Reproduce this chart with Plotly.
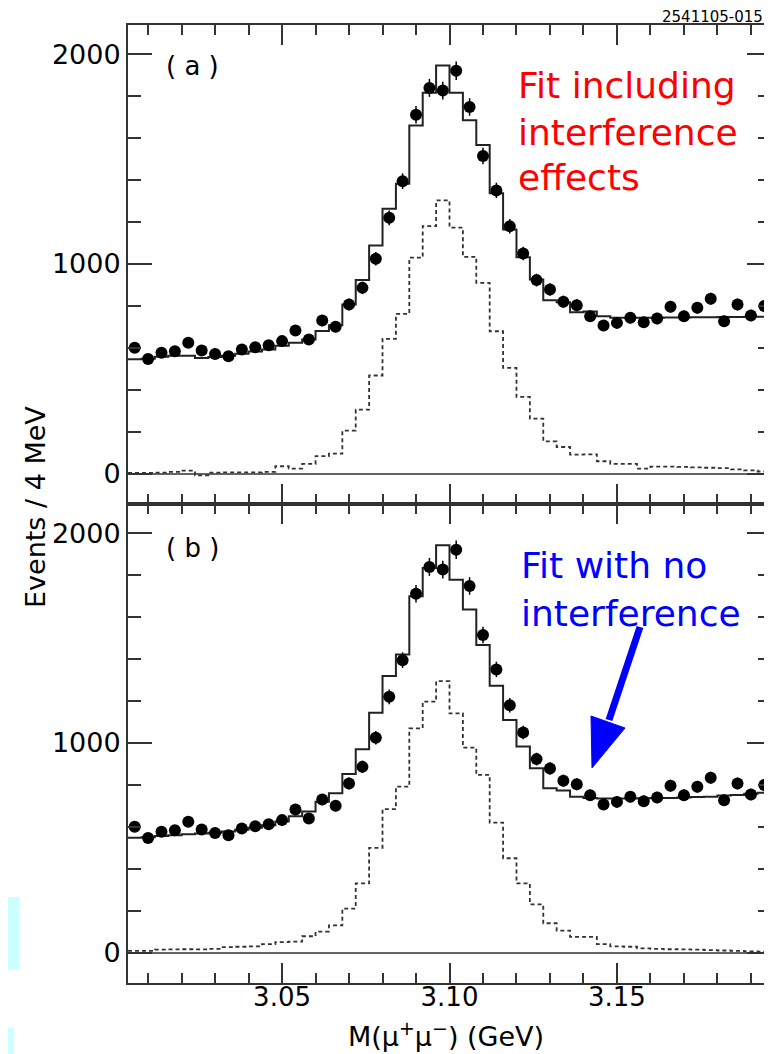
import plotly.graph_objects as go

# ---------------- data ----------------
bin_start = 3.004      # GeV, first bin lower edge
bin_width = 0.004      # GeV (4 MeV bins)
n_bins = 48

data_counts = [600, 547, 576, 584, 624, 587, 571, 560, 592, 603, 612, 632,
               683, 640, 730, 700, 807, 886, 1025, 1220, 1395, 1712, 1840, 1827,
               1922, 1749, 1515, 1351, 1180, 1050, 923, 878, 820, 803, 751, 706,
               719, 743, 722, 740, 796, 751, 791, 834, 727, 807, 754, 799]

fit_a = [545, 548, 558, 562, 562, 552, 556, 562, 572, 582, 592, 610,
         624, 640, 680, 708, 807, 923, 1088, 1263, 1383, 1661, 1817, 1947,
         1817, 1686, 1567, 1337, 1165, 1032, 926, 827, 818, 770, 773, 751,
         743, 743, 744, 744, 745, 745, 746, 746, 747, 747, 748, 748]

sig_a = [3, 3, 5, 8, 14, -8, 5, 6, 6, 6, 8, 35,
         24, 46, 83, 95, 205, 305, 468, 643, 762, 1030, 1181, 1303,
         1173, 1034, 910, 679, 504, 366, 262, 154, 127, 91, 92, 59,
         46, 46, 24, 33, 33, 32, 30, 28, 26, 20, 15, 10]

fit_b = [548, 550, 556, 560, 564, 568, 572, 578, 586, 596, 608, 625,
         650, 673, 720, 760, 852, 970, 1144, 1319, 1422, 1700, 1835, 1943,
         1779, 1637, 1467, 1273, 1110, 983, 880, 784, 773, 744, 737, 735,
         735, 735, 736, 737, 738, 740, 742, 744, 750, 752, 758, 762]

sig_b = [8, 8, 14, 15, 16, 15, 18, 26, 28, 30, 40, 50,
         52, 78, 100, 130, 210, 330, 500, 684, 792, 1070, 1197, 1295,
         1141, 978, 848, 620, 450, 330, 230, 140, 105, 75, 75, 40,
         30, 28, 20, 18, 16, 15, 14, 12, 10, 8, 6, 5]

x_ticks_major = [3.05, 3.10, 3.15]
x_tick_text = ["3.05", "3.10", "3.15"]
y_ticks_major = [0, 1000, 2000]

# ---------------- derived bin geometry ----------------
edges = [bin_start + i * bin_width for i in range(n_bins + 1)]
centers = [bin_start + (i + 0.5) * bin_width for i in range(n_bins)]

# the page body has an 8px margin, so the figure starts at (8, 8) on screen
OFF = 8
W, H = 772 - OFF, 1054 - OFF
ML, MR, MT, MB = 128 - OFF, 1, 25 - OFF, 71
PW, PH = W - ML - MR, H - MT - MB


def fx(px):          # screen px -> paper x
    return (px - OFF - ML) / PW


def fy(py):          # screen py -> paper y
    return (H - MB - (py - OFF)) / PH


FONT = "DejaVu Sans, Liberation Sans, Arial, sans-serif"
AXC = "#333333"

fig = go.Figure()


def add_panel(xa, ya, fit, sig):
    fig.add_trace(go.Scatter(
        x=edges, y=sig + [sig[-1]], mode="lines", line_shape="hv",
        line=dict(color="#333333", width=1.8, dash="4px,3px"),
        xaxis=xa, yaxis=ya, showlegend=False, hoverinfo="skip"))
    fig.add_trace(go.Scatter(
        x=edges, y=fit + [fit[-1]], mode="lines", line_shape="hv",
        line=dict(color="#222222", width=2),
        xaxis=xa, yaxis=ya, showlegend=False, hoverinfo="skip"))
    fig.add_trace(go.Scatter(
        x=centers, y=data_counts, mode="markers",
        marker=dict(color="black", size=12),
        error_y=dict(type="sqrt", visible=True, color="black",
                     thickness=1.5, width=0),
        xaxis=xa, yaxis=ya, showlegend=False))


add_panel("x", "y", fit_a, sig_a)
add_panel("x2", "y2", fit_b, sig_b)

xcommon = dict(
    range=[bin_start, bin_start + n_bins * bin_width],
    showline=True, linecolor=AXC, linewidth=2, mirror="ticks",
    ticks="inside", tickmode="array", tickvals=x_ticks_major,
    ticktext=x_tick_text, ticklen=20, tickwidth=1.5, tickcolor=AXC,
    minor=dict(ticks="inside", dtick=0.01, tick0=3.0, ticklen=10,
               tickwidth=1.5, tickcolor=AXC, showgrid=False),
    showgrid=False, zeroline=False, automargin=False,
    tickfont=dict(family=FONT, size=26, color="black"),
)
ycommon = dict(
    range=[-145, 2140],
    showline=True, linecolor=AXC, linewidth=2, mirror="ticks",
    ticks="inside", tickmode="array", tickvals=y_ticks_major,
    ticklen=24, tickwidth=1.5, tickcolor=AXC,
    minor=dict(ticks="inside", dtick=200, tick0=0, ticklen=13,
               tickwidth=1.5, tickcolor=AXC, showgrid=False),
    showgrid=False, zeroline=True, zerolinecolor="#666666", zerolinewidth=1.5,
    automargin=False,
    tickfont=dict(family=FONT, size=27, color="black"),
)

split = 0.5
fig.update_layout(
    width=W, height=H,
    margin=dict(l=ML, r=MR, t=MT, b=MB, pad=0),
    paper_bgcolor="white", plot_bgcolor="white",
    xaxis=dict(xcommon, anchor="y", showticklabels=False),
    yaxis=dict(ycommon, domain=[split, 1.0], anchor="x"),
    xaxis2=dict(xcommon, anchor="y2", showticklabels=True,
                ticklabelstandoff=-10),
    yaxis2=dict(ycommon, domain=[0.0, split], anchor="x2"),
    font=dict(family=FONT, color="black"),
)

ann = []


def text(px, py, s, size, color="black", xanchor="left", yanchor="middle",
         angle=0):
    ann.append(dict(xref="paper", yref="paper", x=fx(px), y=fy(py), text=s,
                    showarrow=False, xanchor=xanchor, yanchor=yanchor,
                    textangle=angle,
                    font=dict(family=FONT, size=size, color=color)))


text(765, 17, "2541105-015", 15, xanchor="right")
text(192, 66, "( a )", 26, xanchor="center")
text(192, 548, "( b )", 26, xanchor="center")
text(446, 1034, "M(μ<sup>+</sup>μ<sup>−</sup>) (GeV)", 27, xanchor="center")
text(35, 507, "Events / 4 MeV", 27, xanchor="center", angle=-90)

RED = "#FF0000"
BLUE = "#0000FF"
for s, base in [("Fit including", 97), ("interference", 144), ("effects", 190)]:
    text(516, base - 12, s, 36, color=RED)
for s, base in [("Fit with no", 578), ("interference", 625)]:
    text(519, base - 12, s, 36, color=BLUE)

fig.update_layout(annotations=ann)

# blue arrow (shaft + head) and the light-cyan slide fragments at the left edge
shapes = []
shapes.append(dict(type="line", xref="paper", yref="paper",
                   x0=fx(640), y0=fy(627), x1=fx(609), y1=fy(720),
                   line=dict(color=BLUE, width=7)))
tri = [(592, 768), (591, 716), (625, 728)]
path = "M {} {} L {} {} L {} {} Z".format(
    *[v for p in tri for v in (fx(p[0]), fy(p[1]))])
shapes.append(dict(type="path", xref="paper", yref="paper", path=path,
                   fillcolor=BLUE, line=dict(color=BLUE, width=1)))
shapes.append(dict(type="rect", xref="paper", yref="paper",
                   x0=fx(0), x1=fx(19), y0=fy(970), y1=fy(897),
                   fillcolor="#CCFFFF", line=dict(width=0), layer="below"))
shapes.append(dict(type="rect", xref="paper", yref="paper",
                   x0=fx(0), x1=fx(14), y0=fy(1054), y1=fy(1028),
                   fillcolor="#CCFFFF", line=dict(width=0), layer="below"))
fig.update_layout(shapes=shapes)

fig.write_html("out.html")
